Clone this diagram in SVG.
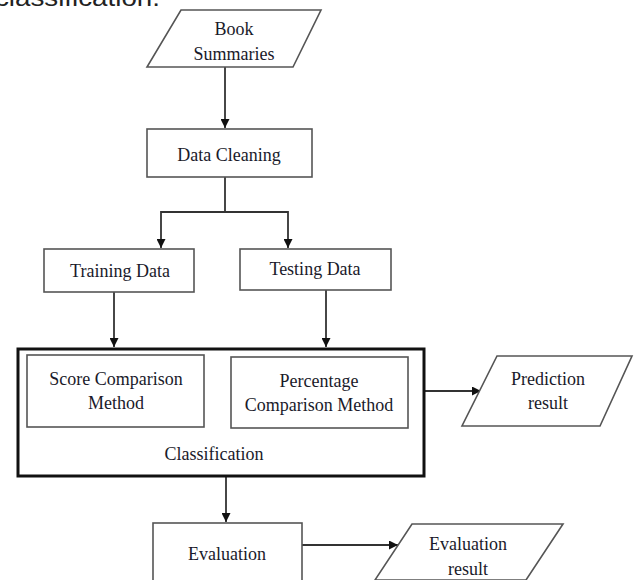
<svg xmlns="http://www.w3.org/2000/svg" width="638" height="580" viewBox="0 0 638 580">
<style>
  .box { fill: #fff; stroke: #555; stroke-width: 1.6; }
  .big { fill: none; stroke: #111; stroke-width: 3; }
  .lbl { font-family: "Liberation Serif", "Times New Roman", serif; font-size: 18px; fill: #1a1a2a; text-anchor: middle; }
  .conn { fill: none; stroke: #333; stroke-width: 1.8; }
  .cap { font-family: "Liberation Sans", Arial, sans-serif; font-size: 24px; fill: #222; }
</style>
<defs>
  <marker id="arr" viewBox="0 0 10 10" refX="10" refY="5" markerWidth="9" markerHeight="9" markerUnits="userSpaceOnUse" orient="auto">
    <path d="M0,0 L10,5 L0,10 Z" fill="#111"/>
  </marker>
</defs>
<rect width="638" height="580" fill="#fff"/>
<text class="cap" x="-5" y="6" textLength="165" lengthAdjust="spacingAndGlyphs">classification.</text>

<g id="connectors">
  <line class="conn" x1="225" y1="67" x2="225" y2="128" marker-end="url(#arr)"/>
  <polyline class="conn" points="225,177 225,212 161,212 161,248" marker-end="url(#arr)"/>
  <polyline class="conn" points="225,212 288,212 288,248" marker-end="url(#arr)"/>
  <line class="conn" x1="114" y1="292" x2="114" y2="347" marker-end="url(#arr)"/>
  <line class="conn" x1="326" y1="290" x2="326" y2="347" marker-end="url(#arr)"/>
  <line class="conn" x1="424" y1="391" x2="481" y2="391" marker-end="url(#arr)"/>
  <line class="conn" x1="226" y1="476" x2="226" y2="522" marker-end="url(#arr)"/>
  <line class="conn" x1="302" y1="545" x2="398" y2="545" marker-end="url(#arr)"/>
</g>

<g id="book-summaries">
  <polygon class="box" points="181,10 321,10 293,67 147,67"/>
  <text class="lbl" x="234" y="35">Book</text>
  <text class="lbl" x="234" y="60">Summaries</text>
</g>

<g id="data-cleaning">
  <rect class="box" x="147" y="129" width="165" height="48"/>
  <text class="lbl" x="229" y="161">Data Cleaning</text>
</g>

<g id="training-data">
  <rect class="box" x="44" y="249" width="150" height="43"/>
  <text class="lbl" x="120" y="277">Training Data</text>
</g>

<g id="testing-data">
  <rect class="box" x="240" y="249" width="151" height="41"/>
  <text class="lbl" x="315" y="275">Testing Data</text>
</g>

<g id="classification">
  <rect class="big" x="18" y="349" width="406" height="127"/>
  <text class="lbl" x="214" y="460">Classification</text>
</g>

<g id="score-comparison">
  <rect class="box" x="27" y="355" width="177" height="72"/>
  <text class="lbl" x="116" y="385">Score Comparison</text>
  <text class="lbl" x="116" y="409">Method</text>
</g>

<g id="percentage-comparison">
  <rect class="box" x="231" y="357" width="177" height="71"/>
  <text class="lbl" x="319" y="387">Percentage</text>
  <text class="lbl" x="319" y="411">Comparison Method</text>
</g>

<g id="prediction-result">
  <polygon class="box" points="497,356 632,356 600,426 462,426"/>
  <text class="lbl" x="548" y="385">Prediction</text>
  <text class="lbl" x="548" y="409">result</text>
</g>

<g id="evaluation">
  <rect class="box" x="153" y="523" width="149" height="70"/>
  <text class="lbl" x="227" y="560">Evaluation</text>
</g>

<g id="evaluation-result">
  <polygon class="box" points="412,524 563,524 526,580 375,580"/>
  <text class="lbl" x="468" y="550">Evaluation</text>
  <text class="lbl" x="468" y="575">result</text>
</g>
</svg>
